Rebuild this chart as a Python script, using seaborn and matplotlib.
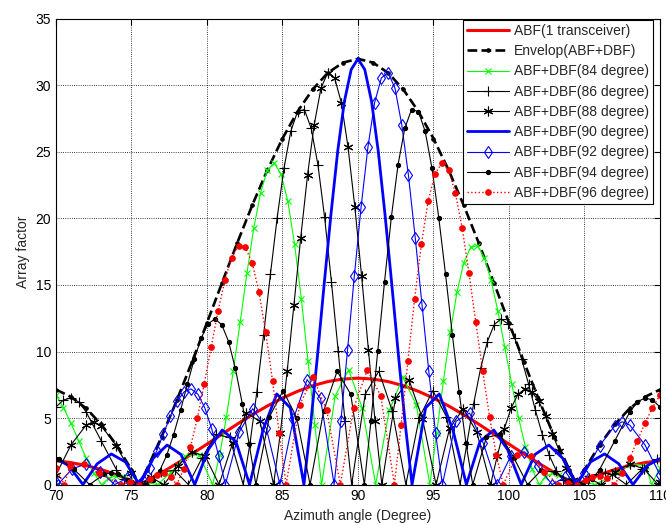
import matplotlib
matplotlib.use('Agg')
import matplotlib.pyplot as plt
import seaborn as sns

# ---- data (azimuth angle in degree, array factor) ----
env_angle = [70, 71, 72, 73, 74, 75, 75.52, 76, 77, 78, 79, 80, 81, 82, 83, 84, 85, 86, 87, 88, 89, 90,
             91, 92, 93, 94, 95, 96, 97, 98, 99, 100, 101, 102, 103, 104, 104.48, 105, 106, 107, 108, 109, 110]
abf_one = [1.79, 1.65, 1.43, 1.13, 0.75, 0.28, 0, 0.27, 0.90, 1.58, 2.30, 3.04, 3.79, 4.54, 5.25, 5.91, 6.50,
           7.01, 7.43, 7.74, 7.93, 8.00, 7.93, 7.74, 7.43, 7.01, 6.50, 5.91, 5.25, 4.54, 3.79, 3.04, 2.30,
           1.58, 0.90, 0.27, 0, 0.28, 0.75, 1.13, 1.43, 1.65, 1.79]
envelope = [7.14, 6.59, 5.73, 4.52, 2.98, 1.12, 0, 1.10, 3.61, 6.32, 9.19, 12.16, 15.17, 18.15, 21.00, 23.64,
            26.01, 28.04, 29.70, 30.94, 31.71, 32.00, 31.71, 30.94, 29.70, 28.04, 26.01, 23.64, 21.00, 18.15,
            15.17, 12.16, 9.19, 6.32, 3.61, 1.10, 0, 1.12, 2.98, 4.52, 5.73, 6.59, 7.14]

ang_84 = [70, 70.5, 71, 71.5, 72, 72.5, 73.02, 73.5, 73.95, 74.5, 74.88, 75.52, 76.1, 76.73, 77.65, 78.56,
          79.48, 80.38, 80.84, 81.29, 81.74, 82.2, 82.65, 83.1, 83.55, 84, 84.45, 84.9, 85.35, 85.8, 86.25,
          86.69, 87.14, 87.59, 88.49, 89.38, 90.28, 91.17, 92.07, 92.97, 93.86, 94.76, 95.21, 95.66, 96.11,
          96.56, 97.01, 97.46, 97.91, 98.37, 98.82, 99.27, 99.72, 100.18, 100.63, 101.09, 101.55, 102,
          102.4, 102.87, 103.3, 103.79, 104.48, 105.1, 105.69, 107.17, 108.11, 109.05, 109.45, 110]
af_84 = [6.73, 5.77, 4.60, 3.30, 1.99, 0.88, 0, 0.48, 0.65, 0.55, 0.36, 0, 0.12, 0, 0.96, 2.14,
         2.25, 0, 2.21, 5.10, 8.52, 12.22, 15.91, 19.28, 21.92, 23.64, 24.16, 23.35, 21.33, 18.07, 13.97,
         9.32, 4.51, 0, 6.66, 8.63, 5.77, 0, 5.57, 8.05, 6.01, 0, 3.85, 7.80, 11.44,
         14.49, 16.69, 17.83, 17.95, 17.06, 15.34, 13.01, 10.34, 7.59, 5.03, 2.84, 1.14, 0,
         0.57, 0.84, 0.73, 0.44, 0, 0.16, 0, 0.86, 1.58, 1.41, 0, 1.27]

ang_86 = [70, 70.5, 71, 71.5, 72, 73, 74, 74.5, 75.09, 75.3, 75.52, 76.02, 76.94, 77.86, 78.77, 79.68,
          80.59, 81.5, 82.4, 82.85, 83.3, 83.75, 84.2, 84.65, 85.1, 85.55, 86, 86.45, 86.9, 87.35, 87.79,
          88.24, 88.69, 89.14, 89.58, 90.48, 91.38, 92.27, 93.17, 94.06, 94.96, 95.86, 96.76, 97.21, 97.66,
          98.12, 98.57, 99.02, 99.47, 99.93, 100.38, 100.84, 101.3, 101.75, 102.21, 102.67, 103.13, 103.59,
          104.05, 104.27, 104.48, 105.2, 105.9, 106.37, 106.83, 107.77, 108.83, 109.78, 110]
af_86 = [5.83, 6.36, 6.51, 6.21, 5.46, 3.28, 1.13, 0.40, 0, 0.05, 0, 0.24, 0.93, 1.07, 0, 2.02,
         3.77, 3.54, 0, 3.10, 6.94, 11.26, 15.79, 20.06, 23.77, 26.55, 28.04, 28.19, 26.78, 24.02, 20.10,
         15.26, 10.04, 4.79, 0, 6.79, 8.52, 5.54, 0, 5.03, 7.06, 5.10, 0, 3.07, 6.08,
         8.73, 10.75, 12.02, 12.45, 12.08, 11.01, 9.43, 7.54, 5.58, 3.75, 2.19, 1.05, 0.32,
         0, 0.03, 0, 0.36, 0.76, 0.87, 0.77, 0, 1.17, 1.92, 1.93]

ang_88 = [70, 71, 72, 72.5, 73, 74, 75, 75.52, 76.3, 77.15, 78.07, 78.98, 79.89, 80.8, 81.7, 82.61, 83.51,
          84.41, 84.86, 85.31, 85.76, 86.21, 86.66, 87.1, 87.55, 88, 88.45, 88.9, 89.34, 89.79, 90.24, 90.69,
          91.13, 91.58, 92.48, 93.37, 94.27, 95.17, 96.07, 96.97, 97.87, 98.78, 99.23, 99.68, 100.14,
          100.59, 101.05, 101.51, 101.97, 102.42, 102.88, 103.34, 103.8, 104.26, 104.48, 105.3, 106.12,
          107.05, 107.99, 108.93, 109.88, 110]
af_88 = [0.73, 2.99, 4.47, 4.72, 4.42, 2.92, 0.84, 0, 0.54, 0, 1.38, 2.47, 2.13, 0, 3.11, 5.38, 4.75,
         0, 3.87, 8.50, 13.52, 18.57, 23.26, 27.04, 29.79, 30.96, 30.57, 28.70, 25.37, 20.90, 15.68, 10.15,
         4.78, 0, 6.47, 7.89, 4.96, 0, 4.23, 5.70, 3.93, 0, 2.18, 4.17, 5.75,
         6.78, 7.19, 6.97, 6.27, 5.15, 3.82, 2.49, 1.24, 0.31, 0, 0.46, 0,
         0.98, 1.55, 1.18, 0, 0.17]

ang_90 = [70, 70.85, 71.79, 72.73, 73.67, 74.6, 75.52, 76.45, 77.36, 78.28, 79.19, 80.1, 81.01, 81.92,
          82.82, 83.72, 84.62, 85.52, 86.42, 86.86, 87.31, 87.76, 88.21, 88.66, 89.1, 89.55, 90, 90.45,
          90.9, 91.34, 91.79, 92.24, 92.69, 93.14, 93.58, 94.48, 95.38, 96.28, 97.18, 98.08, 98.99, 99.9,
          100.81, 101.72, 102.64, 103.55, 104.48, 105.4, 106.33, 107.27, 108.21, 109.15, 110]
af_90 = [1.95, 1.42, 0, 1.56, 2.30, 1.70, 0, 1.99, 2.97, 2.26, 0, 2.65, 4.10, 3.23,
         0, 4.13, 6.81, 5.77, 0, 4.45, 9.59, 15.05, 20.30, 25.08, 28.80, 31.19, 32.00, 31.19,
         28.80, 25.08, 20.30, 15.05, 9.59, 4.45, 0, 5.77, 6.81, 4.13, 0, 3.23, 4.10, 2.65,
         0, 2.26, 2.97, 1.99, 0, 1.70, 2.30, 1.56, 0, 1.42, 1.95]

ang_92 = [70, 70.12, 71.07, 72.01, 72.95, 73.88, 74.7, 75.52, 75.74, 76.2, 76.66, 77.12, 77.58, 78.03,
          78.49, 78.95, 79.41, 79.86, 80.32, 80.77, 81.22, 82.13, 83.03, 83.93, 84.83, 85.73, 86.63, 87.52,
          88.42, 88.87, 89.31, 89.76, 90.21, 90.66, 91.1, 91.55, 92, 92.45, 92.9, 93.34, 93.79, 94.24,
          94.69, 95.14, 95.59, 96.49, 97.39, 98.3, 99.2, 100.11, 101.02, 101.93, 102.85, 103.7, 104.48,
          105, 106, 107, 107.5, 108, 109, 110]
af_92 = [0.17, 0, 1.18, 1.55, 0.98, 0, 0.46, 0, 0.31, 1.24, 2.49, 3.82, 5.15, 6.27,
         6.97, 7.19, 6.78, 5.75, 4.17, 2.18, 0, 3.93, 5.70, 4.23, 0, 4.96, 7.89, 6.47,
         0, 4.78, 10.15, 15.68, 20.90, 25.37, 28.70, 30.57, 30.96, 29.79, 27.04, 23.26, 18.57, 13.52,
         8.50, 3.87, 0, 4.75, 5.38, 3.11, 0, 2.13, 2.47, 1.38, 0, 0.54, 0,
         0.84, 2.92, 4.42, 4.72, 4.47, 2.99, 0.73]

ang_94 = [70, 70.22, 71.17, 72.23, 73.17, 73.63, 74.1, 74.8, 75.52, 75.73, 75.95, 76.41, 76.87, 77.33,
          77.79, 78.25, 78.7, 79.16, 79.62, 80.07, 80.53, 80.98, 81.43, 81.88, 82.34, 82.79, 83.24, 84.14,
          85.04, 85.94, 86.83, 87.73, 88.62, 89.52, 90.42, 90.86, 91.31, 91.76, 92.21, 92.65, 93.1, 93.55,
          94, 94.45, 94.9, 95.35, 95.8, 96.25, 96.7, 97.15, 97.6, 98.5, 99.41, 100.32, 101.23, 102.14,
          103.06, 103.98, 104.48, 104.7, 104.91, 105.5, 106, 107, 108, 108.5, 109, 109.5, 110]
af_94 = [1.93, 1.92, 1.17, 0, 0.77, 0.87, 0.76, 0.36, 0, 0.03, 0, 0.32, 1.05, 2.19,
         3.75, 5.58, 7.54, 9.43, 11.01, 12.08, 12.45, 12.02, 10.75, 8.73, 6.08, 3.07, 0, 5.10,
         7.06, 5.03, 0, 5.54, 8.52, 6.79, 0, 4.79, 10.04, 15.26, 20.10, 24.02, 26.78, 28.19,
         28.04, 26.55, 23.77, 20.06, 15.79, 11.26, 6.94, 3.10, 0, 3.54, 3.77, 2.02, 0, 1.07,
         0.93, 0.24, 0, 0.05, 0, 0.40, 1.13, 3.28, 5.46, 6.21, 6.51, 6.36, 5.83]

ang_96 = [70, 70.55, 70.95, 71.89, 72.83, 74.31, 74.9, 75.52, 76.21, 76.7, 77.13, 77.6, 78, 78.45, 78.91,
          79.37, 79.82, 80.28, 80.73, 81.18, 81.63, 82.09, 82.54, 82.99, 83.44, 83.89, 84.34, 84.79, 85.24,
          86.14, 87.03, 87.93, 88.83, 89.72, 90.62, 91.51, 92.41, 92.86, 93.31, 93.75, 94.2, 94.65, 95.1,
          95.55, 96, 96.45, 96.9, 97.35, 97.8, 98.26, 98.71, 99.16, 99.62, 100.52, 101.44, 102.35, 103.27,
          103.9, 104.48, 105.12, 105.5, 106.05, 106.5, 106.98, 107.5, 108, 108.5, 109, 109.5, 110]
af_96 = [1.27, 0, 1.41, 1.58, 0.86, 0, 0.16, 0, 0.44, 0.73, 0.84, 0.57, 0, 1.14, 2.84,
         5.03, 7.59, 10.34, 13.01, 15.34, 17.06, 17.95, 17.83, 16.69, 14.49, 11.44, 7.80, 3.85, 0,
         6.01, 8.05, 5.57, 0, 5.77, 8.63, 6.66, 0, 4.51, 9.32, 13.97, 18.07, 21.33, 23.35,
         24.16, 23.64, 21.92, 19.28, 15.91, 12.22, 8.52, 5.10, 2.21, 0, 2.25, 2.14, 0.96, 0,
         0.12, 0, 0.36, 0.55, 0.65, 0.48, 0, 0.88, 1.99, 3.30, 4.60, 5.77, 6.73]

x_ticks = [70, 75, 80, 85, 90, 95, 100, 105, 110]
y_ticks = [0, 5, 10, 15, 20, 25, 30, 35]

sns.set_style('white')
plt.rcParams['font.family'] = ['Liberation Sans', 'DejaVu Sans']

fig, ax = plt.subplots(figsize=(6.66, 5.25), dpi=100)
fig.subplots_adjust(left=0.084, right=0.991, top=0.964, bottom=0.077)

GREEN = '#00ff00'
ASTERISK = (6, 2, 0)   # matlab-like '*' made of strokes
curves = [
    (env_angle, abf_one, 'ABF(1 transceiver)', dict(color='red', linewidth=2.2)),
    (env_angle, envelope, 'Envelop(ABF+DBF)', dict(color='black', linewidth=1.9, linestyle='--',
                                                  marker='.', markersize=5)),
    (ang_84, af_84, 'ABF+DBF(84 degree)', dict(color=GREEN, linewidth=0.8, marker='x', markersize=5)),
    (ang_86, af_86, 'ABF+DBF(86 degree)', dict(color='black', linewidth=0.8, marker='+', markersize=7)),
    (ang_88, af_88, 'ABF+DBF(88 degree)', dict(color='black', linewidth=0.8, marker=ASTERISK, markersize=7)),
    (ang_90, af_90, 'ABF+DBF(90 degree)', dict(color='blue', linewidth=2.0)),
    (ang_92, af_92, 'ABF+DBF(92 degree)', dict(color='blue', linewidth=0.8, marker='d', markersize=6,
                                               markerfacecolor='none')),
    (ang_94, af_94, 'ABF+DBF(94 degree)', dict(color='black', linewidth=0.8, marker='.', markersize=6)),
    (ang_96, af_96, 'ABF+DBF(96 degree)', dict(color='red', linewidth=1.0, linestyle=':',
                                               marker='.', markersize=8)),
]

for xs, ys, name, style in curves:
    sns.lineplot(x=xs, y=ys, ax=ax, label=name, estimator=None, sort=False,
                 markeredgecolor=style['color'], markeredgewidth=0.8, **style)

ax.set_xlim(70, 110)
ax.set_ylim(0, 35)
ax.set_xticks(x_ticks)
ax.set_yticks(y_ticks)
ax.grid(True, linestyle=':', color='black', linewidth=0.6)
ax.tick_params(direction='in', length=4, top=True, right=True, labelsize=10, colors='black')
for sp in ax.spines.values():
    sp.set_color('black')
    sp.set_linewidth(0.8)

ax.set_xlabel('Azimuth angle (Degree)', fontsize=10)
ax.set_ylabel('Array factor', fontsize=10)

leg = ax.legend(loc='upper right', bbox_to_anchor=(0.989, 0.998), borderaxespad=0, fontsize=10,
                labelspacing=0.45, handlelength=3, handletextpad=0.4, borderpad=0.3,
                fancybox=False, framealpha=1, edgecolor='black')
leg.get_frame().set_linewidth(0.8)

fig.savefig('out.png', dpi=100)
